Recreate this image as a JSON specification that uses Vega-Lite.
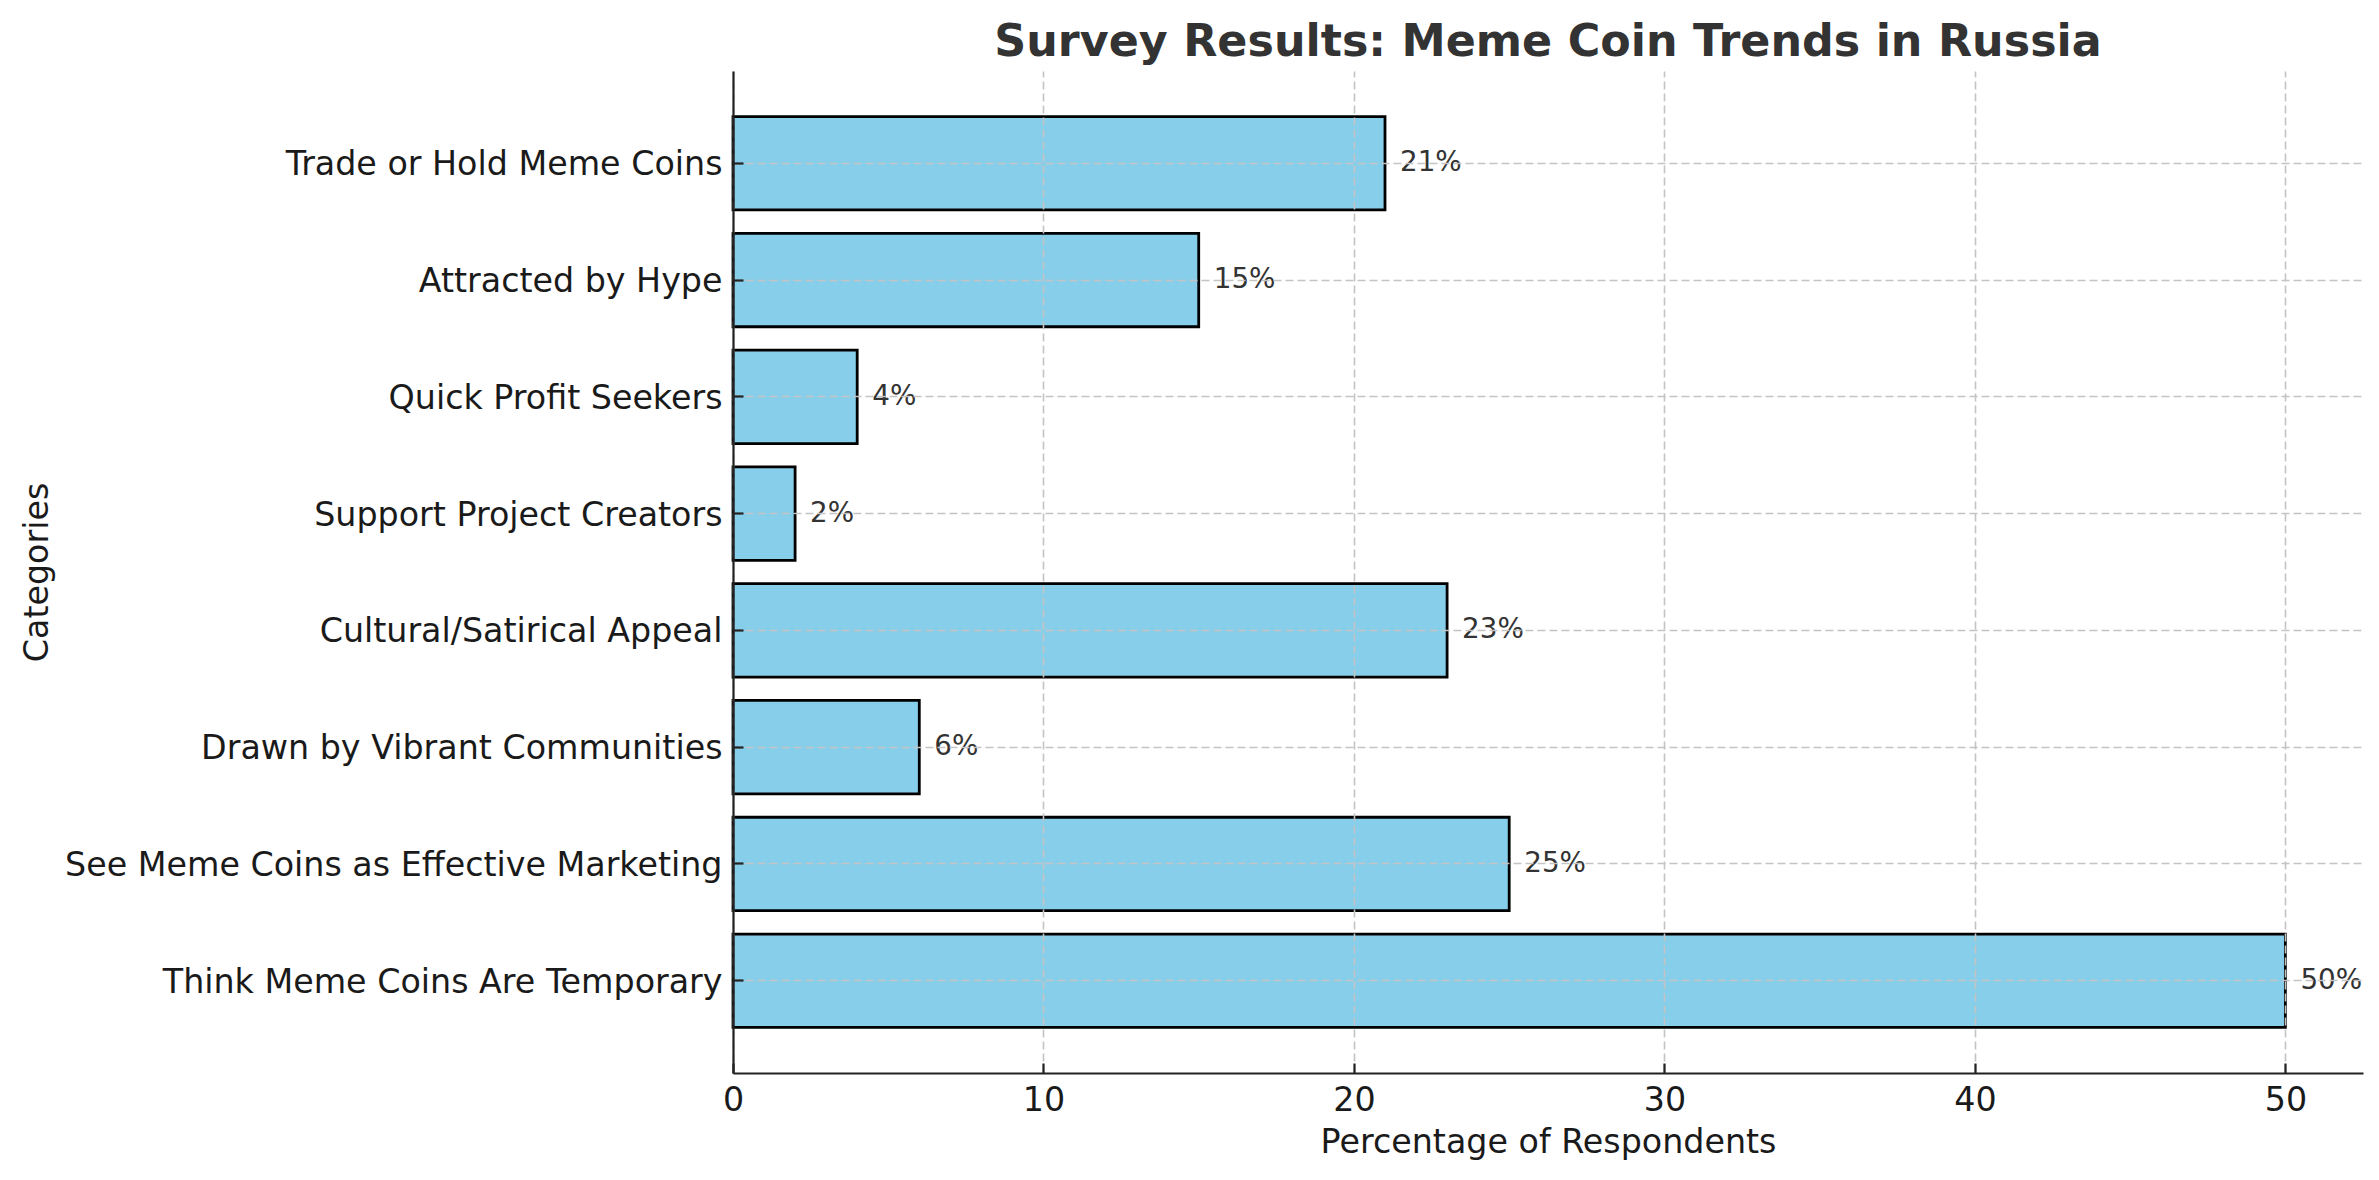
{
  "$schema": "https://vega.github.io/schema/vega-lite/v6.json",
  "autosize": {"type": "none"},
  "padding": {"left": 733, "top": 71, "right": 16, "bottom": 107},
  "width": 1630,
  "height": 1002,
  "background": "white",
  "config": {
    "view": {"stroke": null},
    "font": "DejaVu Sans"
  },
  "title": {
    "text": "Survey Results: Meme Coin Trends in Russia",
    "font": "DejaVu Sans",
    "fontSize": 44.4,
    "fontWeight": "bold",
    "color": "#333333",
    "anchor": "middle",
    "frame": "group",
    "baseline": "alphabetic",
    "offset": 16,
    "dy": 45
  },
  "data": {
    "values": [
      {"category": "Trade or Hold Meme Coins", "value": 21, "label": "21%"},
      {"category": "Attracted by Hype", "value": 15, "label": "15%"},
      {"category": "Quick Profit Seekers", "value": 4, "label": "4%"},
      {"category": "Support Project Creators", "value": 2, "label": "2%"},
      {"category": "Cultural/Satirical Appeal", "value": 23, "label": "23%"},
      {"category": "Drawn by Vibrant Communities", "value": 6, "label": "6%"},
      {"category": "See Meme Coins as Effective Marketing", "value": 25, "label": "25%"},
      {"category": "Think Meme Coins Are Temporary", "value": 50, "label": "50%"}
    ]
  },
  "encoding": {
    "y": {
      "field": "category",
      "type": "nominal",
      "sort": null,
      "scale": {"paddingInner": 0.2, "paddingOuter": 0.39},
      "axis": {
        "title": "Categories",
        "zindex": 1,
        "grid": true,
        "gridColor": "#c4c4c4",
        "gridDash": [8, 4],
        "gridWidth": 1.6,
        "domainColor": "#222222",
        "domainWidth": 2.2,
        "tickColor": "#222222",
        "tickWidth": 2.2,
        "tickSize": -10,
        "labelPadding": 21,
        "labelOffset": 2,
        "labelFont": "DejaVu Sans",
        "labelFontSize": 33.3,
        "labelColor": "#1a1a1a",
        "labelLimit": 0,
        "titleFont": "DejaVu Sans",
        "titleFontSize": 33.3,
        "titleFontWeight": "normal",
        "titleColor": "#1a1a1a",
        "titleAngle": 270,
        "titleBaseline": "alphabetic",
        "titleAlign": "center",
        "titleX": -686,
        "titleY": 501
      }
    },
    "x": {
      "field": "value",
      "type": "quantitative",
      "scale": {"domain": [0, 52.5], "nice": false, "zero": true},
      "axis": {
        "title": "Percentage of Respondents",
        "values": [0, 10, 20, 30, 40, 50],
        "zindex": 1,
        "grid": true,
        "gridColor": "#c4c4c4",
        "gridDash": [8, 4],
        "gridWidth": 1.6,
        "domainColor": "#222222",
        "domainWidth": 2.2,
        "tickColor": "#222222",
        "tickWidth": 2.2,
        "tickSize": -10,
        "labelPadding": 21,
        "labelFont": "DejaVu Sans",
        "labelFontSize": 33.3,
        "labelColor": "#1a1a1a",
        "labelFlush": false,
        "titleFont": "DejaVu Sans",
        "titleFontSize": 33.3,
        "titleFontWeight": "normal",
        "titleColor": "#1a1a1a",
        "titleBaseline": "alphabetic",
        "titleAlign": "center",
        "titleX": 815,
        "titleY": 79
      }
    }
  },
  "layer": [
    {
      "mark": {"type": "bar", "color": "#87CEEB", "stroke": "black", "strokeWidth": 2.8}
    },
    {
      "mark": {"type": "text", "align": "left", "baseline": "middle", "dx": 15, "font": "DejaVu Sans", "fontSize": 27.8, "color": "#333333"},
      "encoding": {
        "text": {"field": "label", "type": "nominal"}
      }
    }
  ]
}
